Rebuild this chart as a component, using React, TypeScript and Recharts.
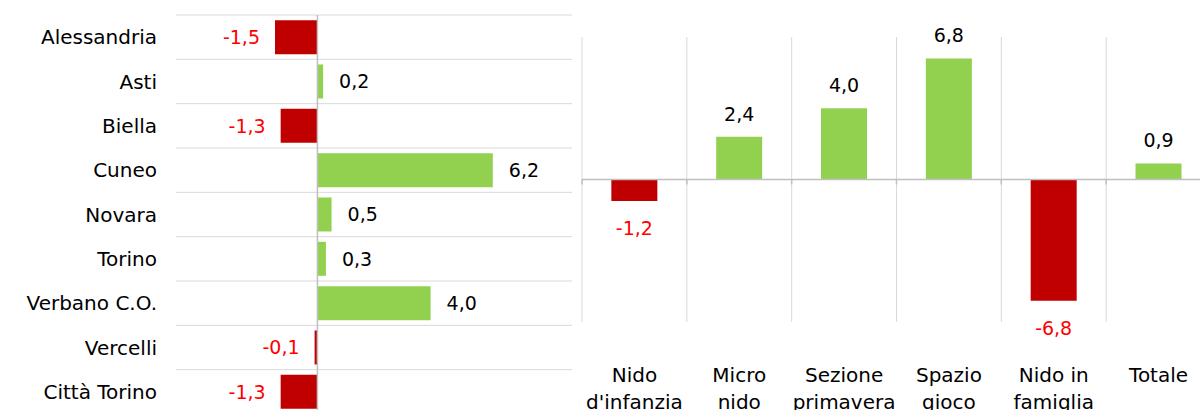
import { Bar, BarChart, CartesianGrid, Cell, ReferenceLine, XAxis, YAxis } from "recharts";

// Left: change by province
const provinces = [
  "Alessandria",
  "Asti",
  "Biella",
  "Cuneo",
  "Novara",
  "Torino",
  "Verbano C.O.",
  "Vercelli",
  "Città Torino",
];
const provinceChange = [-1.5, 0.2, -1.3, 6.2, 0.5, 0.3, 4.0, -0.1, -1.3];
const provinceDomain = [-5, 9];

// Right: change by service type (line breaks as in the original labels)
const services = [
  "Nido\nd'infanzia",
  "Micro\nnido",
  "Sezione\nprimavera",
  "Spazio\ngioco",
  "Nido in\nfamiglia",
  "Totale",
];
const serviceChange = [-1.2, 2.4, 4.0, 6.8, -6.8, 0.9];
const serviceDomain = [-8, 8];

const GREEN = "#92D050";
const RED = "#C00000";
const RED_TEXT = "#FF0000";
const GRID = "#d9d9d9";
const AXIS = "#bfbfbf";
const FONT = "'DejaVu Sans', sans-serif";
const FS = 19;
const CAT_FS = 20;

const fmt = (v: number) => v.toFixed(1).replace(".", ",");

const provinceData = provinces.map((name, i) => ({ name, value: provinceChange[i] }));
const serviceData = services.map((name, i) => ({ name, value: serviceChange[i] }));

function ProvinceTick(props: any) {
  const { x, y, payload } = props;
  return (
    <text x={x} y={y} textAnchor="end" dominantBaseline="central" fontSize={CAT_FS} fill="#000" fontFamily={FONT}>
      {payload.value}
    </text>
  );
}

function ServiceTick(props: any) {
  const { x, y, payload } = props;
  const lines = String(payload.value).split("\n");
  return (
    <text x={x} y={y + 53} textAnchor="middle" dominantBaseline="central" fontSize={CAT_FS} fill="#000" fontFamily={FONT}>
      {lines.map((l, i) => (
        <tspan key={i} x={x} dy={i === 0 ? 0 : 27}>
          {l}
        </tspan>
      ))}
    </text>
  );
}

function provinceLabel(props: any) {
  const { x, y, width, height, value, index } = props;
  if (typeof value !== "number") return <g key={index} />;
  const left = Math.min(x, x + width);
  const right = Math.max(x, x + width);
  const neg = value < 0;
  return (
    <text
      key={index}
      x={neg ? left - 15 : right + 16}
      y={y + height / 2}
      textAnchor={neg ? "end" : "start"}
      dominantBaseline="central"
      fontSize={FS}
      fontFamily={FONT}
      fill={neg ? RED_TEXT : "#000"}
    >
      {fmt(value)}
    </text>
  );
}

function serviceLabel(props: any) {
  const { x, y, width, height, value, index } = props;
  if (typeof value !== "number") return <g key={index} />;
  const top = Math.min(y, y + height);
  const bottom = Math.max(y, y + height);
  const neg = value < 0;
  return (
    <text
      key={index}
      x={x + width / 2}
      y={neg ? bottom + 27 : top - 23}
      textAnchor="middle"
      dominantBaseline="central"
      fontSize={FS}
      fontFamily={FONT}
      fill={neg ? RED_TEXT : "#000"}
    >
      {fmt(value)}
    </text>
  );
}

// zero axis with small tick marks at the category boundaries
function ZeroAxis(props: any) {
  const { x1, y1, x2, y2 } = props;
  const n = services.length;
  const step = (x2 - x1) / n;
  return (
    <g>
      <line x1={x1} y1={y1} x2={x2} y2={y2} stroke={AXIS} strokeWidth={1.5} />
      {Array.from({ length: n + 1 }, (_, i) => (
        <line key={i} x1={x1 + i * step} x2={x1 + i * step} y1={y1} y2={y1 + 5} stroke={AXIS} strokeWidth={1.5} />
      ))}
    </g>
  );
}

export default function App() {
  return (
    <div
      style={{
        position: "fixed",
        left: 0,
        top: 0,
        width: 1200,
        height: 410,
        overflow: "hidden",
        background: "#fff",
        fontFamily: FONT,
      }}
    >
      <div style={{ position: "absolute", left: 0, top: 0 }}>
        <BarChart
          width={600}
          height={440}
          data={provinceData}
          layout="vertical"
          margin={{ top: 15, right: 28, bottom: 26, left: 0 }}
          barCategoryGap="11.6%"
        >
          <CartesianGrid
            vertical={false}
            stroke={GRID}
            horizontalCoordinatesGenerator={({ offset }: any) =>
              Array.from({ length: provinces.length + 1 }, (_, i) => offset.top + (i * offset.height) / provinces.length)
            }
          />
          <XAxis type="number" domain={provinceDomain} hide />
          <YAxis
            type="category"
            dataKey="name"
            width={176}
            axisLine={false}
            tickLine={false}
            tickSize={0}
            tickMargin={19}
            interval={0}
            tick={<ProvinceTick />}
          />
          <ReferenceLine x={0} stroke={AXIS} strokeWidth={1.5} />
          <Bar dataKey="value" isAnimationActive={false} label={provinceLabel}>
            {provinceData.map((d) => (
              <Cell key={d.name} fill={d.value < 0 ? RED : GREEN} />
            ))}
          </Bar>
        </BarChart>
      </div>

      <div style={{ position: "absolute", left: 570, top: 0 }}>
        <BarChart
          width={660}
          height={440}
          data={serviceData}
          margin={{ top: 37, right: 19, bottom: 18, left: 12 }}
          barCategoryGap="28%"
        >
          <CartesianGrid
            horizontal={false}
            stroke={GRID}
            verticalCoordinatesGenerator={({ offset }: any) =>
              Array.from({ length: services.length + 1 }, (_, i) => offset.left + (i * offset.width) / services.length)
            }
          />
          <XAxis
            dataKey="name"
            height={100}
            axisLine={false}
            tickLine={false}
            tickSize={0}
            tickMargin={0}
            interval={0}
            tick={<ServiceTick />}
          />
          <YAxis type="number" domain={serviceDomain} hide />
          <ReferenceLine y={0} shape={ZeroAxis} />
          <Bar dataKey="value" isAnimationActive={false} label={serviceLabel}>
            {serviceData.map((d) => (
              <Cell key={d.name} fill={d.value < 0 ? RED : GREEN} />
            ))}
          </Bar>
        </BarChart>
      </div>
    </div>
  );
}
